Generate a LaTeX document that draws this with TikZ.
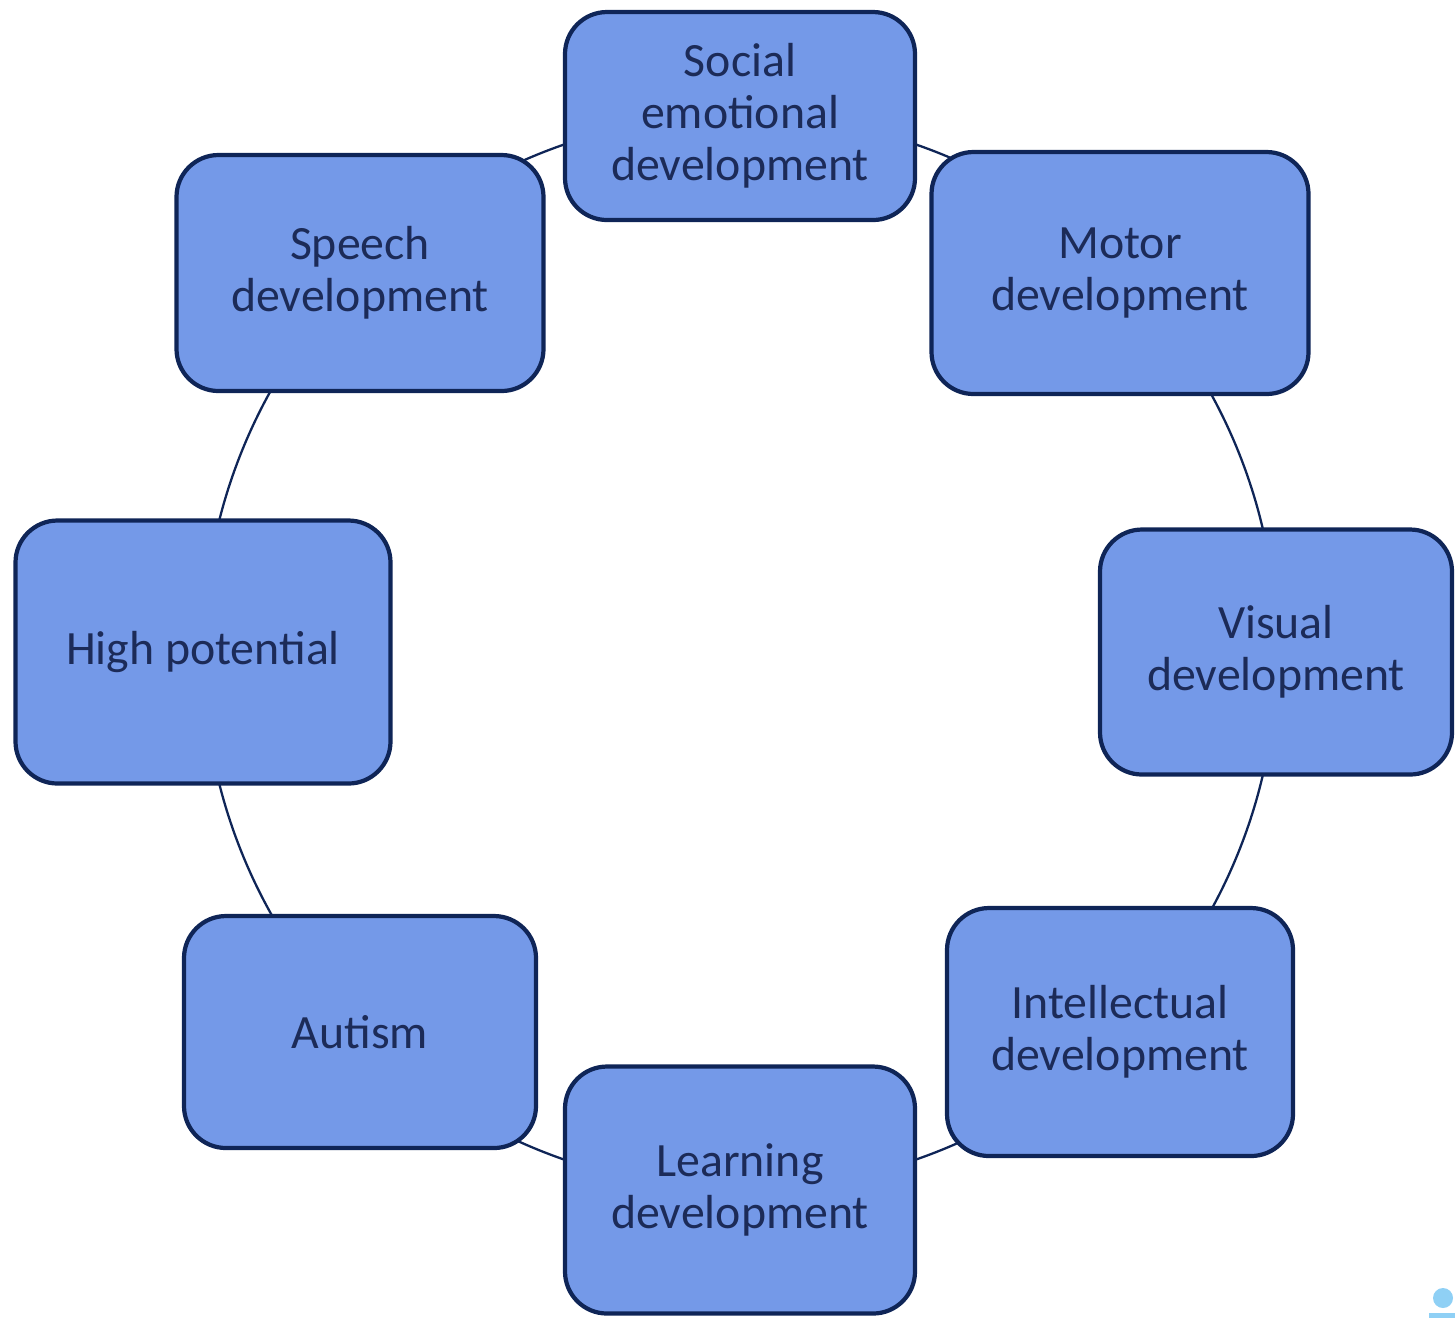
\documentclass[tikz,border=0pt]{standalone}
\usepackage{fontspec}
\setmainfont{Carlito}
\usetikzlibrary{calc}
\definecolor{boxfill}{HTML}{7499E8}
\definecolor{boxline}{HTML}{0F2557}
\definecolor{boxtext}{HTML}{1C2B58}
\definecolor{iconblue}{HTML}{8FD0F5}
\tikzset{
  area/.style={draw=boxline,line width=1.2pt,fill=boxfill,rounded corners=0.42cm,
    align=center,text=boxtext,font=\fontsize{13.6}{14.8}\selectfont,inner sep=0pt},
  ring/.style={draw=boxline,line width=0.65pt}
}

\begin{document}
\begin{tikzpicture}
\useasboundingbox (0,0) rectangle (14.55,-13.18);
\coordinate (C) at (7.40,-6.52);
\draw[ring] (C) circle (5.37cm);
\node[area,minimum width=3.50cm,minimum height=2.08cm] (soc) at (7.40,-1.16) {Social\\emotional\\development};
\node[area,minimum width=3.77cm,minimum height=2.42cm] (mot) at (11.20,-2.73) {Motor\\development};
\node[area,minimum width=3.52cm,minimum height=2.45cm] (vis) at (12.76,-6.52) {Visual\\development};
\node[area,minimum width=3.46cm,minimum height=2.48cm] (int) at (11.20,-10.32) {Intellectual\\development};
\node[area,minimum width=3.50cm,minimum height=2.47cm] (lea) at (7.40,-11.90) {Learning\\development};
\node[area,minimum width=3.52cm,minimum height=2.32cm] (aut) at (3.60,-10.32) {Autism};
\node[area,minimum width=3.75cm,minimum height=2.63cm] (hig) at (2.03,-6.52) {High potential};
\node[area,minimum width=3.67cm,minimum height=2.36cm] (spe) at (3.60,-2.73) {Speech\\development};
% small icon in the corner
\fill[iconblue] (14.43,-12.98) circle (0.10);
\fill[iconblue] (14.29,-13.13) rectangle (14.55,-13.18);
\end{tikzpicture}
\end{document}
